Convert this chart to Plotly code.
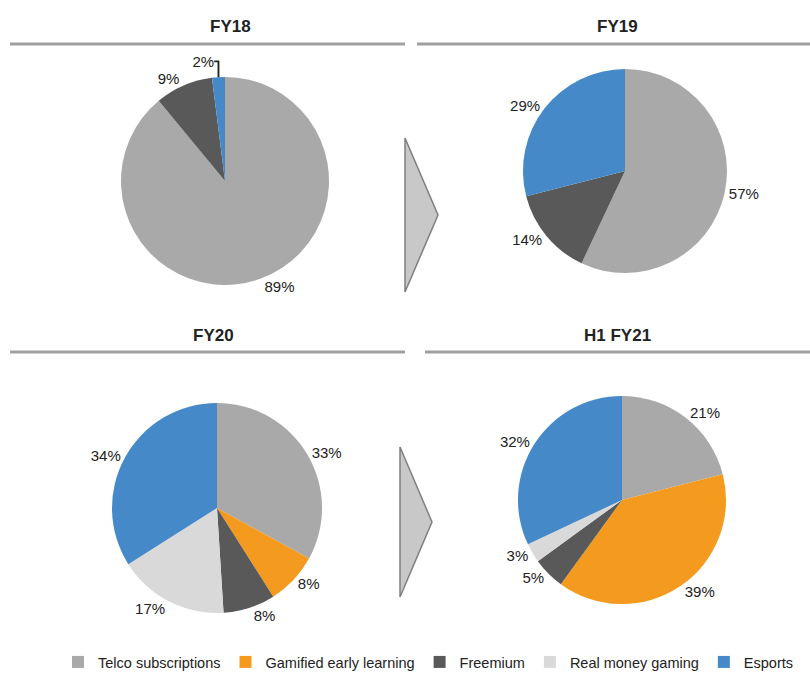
import plotly.graph_objects as go

W, H = 810, 673

categories = ["Telco subscriptions", "Gamified early learning", "Freemium",
              "Real money gaming", "Esports"]
colors = ["#a9a9a9", "#f39a1f", "#595959", "#d9d9d9", "#4589c8"]

periods = ["FY18", "FY19", "FY20", "H1 FY21"]
fy18 = [89, 0, 9, 0, 2]
fy19 = [57, 0, 14, 0, 29]
fy20 = [33, 8, 8, 17, 34]
h1fy21 = [21, 39, 5, 3, 32]
series = [fy18, fy19, fy20, h1fy21]

# layout helpers (pixel centres and radii of the pies)
centers = [(225, 181), (625, 171), (217, 508), (622, 500)]
radii = [104, 102, 105, 104]

FONT = "Liberation Sans, Arial"


def px_x(x):
    return x / W


def px_y(y):
    return 1 - y / H


fig = go.Figure()
for i, (name, vals) in enumerate(zip(periods, series)):
    cx, cy = centers[i]
    r = radii[i]
    fig.add_trace(go.Pie(
        labels=categories,
        values=vals,
        text=[f"{v}%" if v else "" for v in vals],
        textinfo="text",
        textposition="outside",
        sort=False,
        direction="clockwise",
        rotation=0,
        marker=dict(colors=colors, line=dict(width=0)),
        textfont=dict(size=15, color="#222222", family=FONT),
        domain=dict(x=[px_x(cx - r), px_x(cx + r)],
                    y=[px_y(cy + r), px_y(cy - r)]),
        showlegend=(i == 3),
        name=name,
        hoverinfo="label+percent",
    ))

# titles
titles = [(230, 27, "FY18"), (617, 27, "FY19"), (213, 335, "FY20"), (617, 335, "H1 FY21")]
for x, y, t in titles:
    fig.add_annotation(x=px_x(x), y=px_y(y), xref="paper", yref="paper",
                       xanchor="center", yanchor="middle",
                       text=f"<b>{t}</b>", showarrow=False,
                       font=dict(size=17, color="#222222", family=FONT))

# header lines
lines = [(10, 405, 44), (417, 810, 44), (10, 405, 352), (425, 810, 352)]
for x0, x1, y in lines:
    fig.add_shape(type="line", xref="paper", yref="paper",
                  x0=px_x(x0), x1=px_x(x1), y0=px_y(y), y1=px_y(y),
                  line=dict(color="#a0a0a0", width=3))

# arrows
arrows = [(405, 138, 438, 292), (400, 447, 432, 597)]
for x0, y0, x1, y1 in arrows:
    ym = (y0 + y1) / 2
    path = (f"M {px_x(x0)} {px_y(y0)} L {px_x(x1)} {px_y(ym)} "
            f"L {px_x(x0)} {px_y(y1)} Z")
    fig.add_shape(type="path", xref="paper", yref="paper", path=path,
                  fillcolor="#c8c8c8", line=dict(color="#7f7f7f", width=1.5))

fig.update_layout(
    width=W, height=H,
    margin=dict(l=0, r=0, t=0, b=0, autoexpand=False),
    paper_bgcolor="white", plot_bgcolor="white",
    font=dict(family=FONT, color="#222222"),
    legend=dict(orientation="h", x=px_x(58), y=px_y(662), yanchor="middle",
                xanchor="left", font=dict(size=14.5), traceorder="normal",
                itemwidth=30, tracegroupgap=0),
)

fig.write_html("out.html",
               config={"displayModeBar": False},
               post_script="document.body.style.margin='0';"
                           "document.body.style.overflow='hidden';")
